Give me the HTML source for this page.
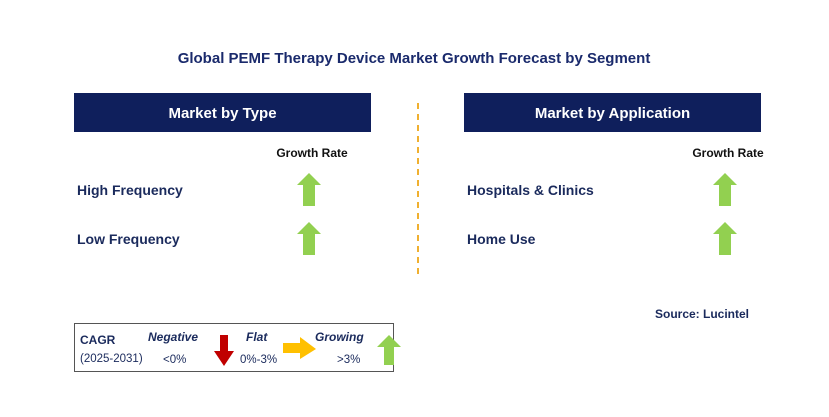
<!DOCTYPE html>
<html><head><meta charset="utf-8"><style>
body{margin:0;background:#fff;width:829px;height:417px;overflow:hidden}
svg{display:block;font-family:"Liberation Sans",sans-serif}
</style></head><body>
<svg id="c" width="829" height="417" viewBox="0 0 829 417">
<text x="414" y="63" text-anchor="middle" font-size="15" font-weight="bold" fill="#1a2a6c">Global PEMF Therapy Device Market Growth Forecast by Segment</text>
<line x1="418" y1="103" x2="418" y2="274" stroke="#f0b030" stroke-width="2" stroke-dasharray="6,5"/>
<g id="panels"></g>
<g>
<rect x="74.5" y="323.5" width="319" height="48" fill="#fff" stroke="#555" stroke-width="1"/>
<text x="80" y="344" font-size="12" font-weight="bold" fill="#1a2a5c">CAGR</text>
<text x="80" y="362" font-size="11.5" fill="#1a2a5c">(2025-2031)</text>
<text x="148" y="341" font-size="12" font-weight="bold" font-style="italic" fill="#1a2a5c">Negative</text>
<text x="163" y="363" font-size="11.5" fill="#1a2a5c">&lt;0%</text>
<polygon points="220,335 228,335 228,351 234,351 224,366 214,351 220,351" fill="#c00000"/>
<text x="246" y="341" font-size="12" font-weight="bold" font-style="italic" fill="#1a2a5c">Flat</text>
<text x="240" y="363" font-size="11.5" fill="#1a2a5c">0%-3%</text>
<polygon points="283,343 300,343 300,337 316,349 300,359 300,353 283,353" fill="#ffc000"/>
<text x="315" y="341" font-size="12" font-weight="bold" font-style="italic" fill="#1a2a5c">Growing</text>
<text x="337" y="363" font-size="11.5" fill="#1a2a5c">&gt;3%</text>
<polygon points="389,335 401,347 394,347 394,365 384,365 384,347 377,347" fill="#92d050"/>
</g>
<text x="749" y="318" text-anchor="end" font-size="12" font-weight="bold" fill="#1a2a5c">Source: Lucintel</text>
</svg>
<script>
const panelTitles=["Market by Type","Market by Application"];
const typeSegments=["High Frequency","Low Frequency"];
const appSegments=["Hospitals & Clinics","Home Use"];
const typeGrowth=["up","up"];
const appGrowth=["up","up"];
const NS="http://www.w3.org/2000/svg";
const g=document.getElementById("panels");
function mk(t,a,txt){const e=document.createElementNS(NS,t);for(const k in a)e.setAttribute(k,a[k]);if(txt)e.textContent=txt;g.appendChild(e);return e;}
function arrow(cx,cy,dir){
  let pts;
  if(dir==="up")pts=[[cx,cy-17],[cx+12,cy-5],[cx+6,cy-5],[cx+6,cy+16],[cx-6,cy+16],[cx-6,cy-5],[cx-12,cy-5]];
  else if(dir==="down")pts=[[cx,cy+17],[cx+12,cy+5],[cx+6,cy+5],[cx+6,cy-16],[cx-6,cy-16],[cx-6,cy+5],[cx-12,cy+5]];
  else pts=[[cx+17,cy],[cx+5,cy-12],[cx+5,cy-6],[cx-16,cy-6],[cx-16,cy+6],[cx+5,cy+6],[cx+5,cy+12]];
  const col=dir==="up"?"#92d050":dir==="down"?"#c00000":"#ffc000";
  return mk("polygon",{points:pts.map(p=>p.join(",")).join(" "),fill:col});
}
const panels=[{x:74,segs:typeSegments,gr:typeGrowth,ax:309},{x:464,segs:appSegments,gr:appGrowth,ax:725}];
panels.forEach((p,i)=>{
  const r=mk("rect",{x:p.x,y:93,width:297,height:39,fill:"#0f1f5c"});
  
  
  const t=mk("text",{x:p.x+148.5,y:118,"text-anchor":"middle","font-size":15,"font-weight":"bold",fill:"#fff"},panelTitles[i]);
  
  
  const gr=mk("text",{x:p.ax+3,y:157,"text-anchor":"middle","font-size":12,"font-weight":"bold",fill:"#111"},"Growth Rate");
  
  
  p.segs.forEach((s,j)=>{
    const y=190+j*49;
    const l=mk("text",{x:p.x+3,y:y+5,"font-size":14,"font-weight":"bold",fill:"#1a2a5c"},s);
    
    
    const a=arrow(p.ax,y,p.gr[j]);
    
    
  });
});
</script>
</body></html>
